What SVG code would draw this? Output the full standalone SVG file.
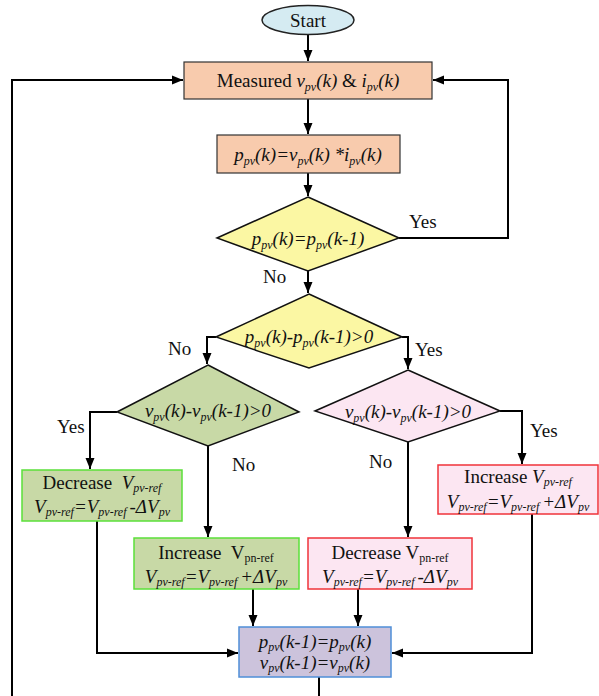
<svg xmlns="http://www.w3.org/2000/svg" width="599" height="696" viewBox="0 0 599 696">
<style>
text{font-family:"Liberation Serif","Times New Roman",serif;font-size:19px;fill:#111}
.c{text-anchor:middle}
.i{font-style:italic}
.s{font-size:12px}
.con{fill:none;stroke:#000;stroke-width:2}
.dia{stroke:#111;stroke-width:1.5}
.peach{fill:#F8CBAD;stroke:#333;stroke-width:1.2}
.green{fill:#C8D9A6;stroke:#5BE03A;stroke-width:1.5}
.pink{fill:#FCE6F2;stroke:#F0333A;stroke-width:1.5}
</style>
<defs>
<marker id="ah" markerUnits="userSpaceOnUse" markerWidth="12" markerHeight="12" viewBox="0 0 12 12" refX="11" refY="6" orient="auto">
<path d="M0,1.5 L11,6 L0,10.5 z" fill="#000"/>
</marker>
</defs>

<g id="connectors">
<path class="con" d="M308,34 V61" marker-end="url(#ah)"/>
<path class="con" d="M308,99 V134" marker-end="url(#ah)"/>
<path class="con" d="M308,173 V196" marker-end="url(#ah)"/>
<path class="con" d="M399,238 H508 V80 H433" marker-end="url(#ah)"/>
<path class="con" d="M308,271 V293" marker-end="url(#ah)"/>
<path class="con" d="M216,337 H207 V364" marker-end="url(#ah)"/>
<path class="con" d="M402,337 H408 V369" marker-end="url(#ah)"/>
<path class="con" d="M117,412 H90 V469" marker-end="url(#ah)"/>
<path class="con" d="M208,446 V537" marker-end="url(#ah)"/>
<path class="con" d="M500,411 H522 V464" marker-end="url(#ah)"/>
<path class="con" d="M408,442 V537" marker-end="url(#ah)"/>
<path class="con" d="M97,521 V653 H238" marker-end="url(#ah)"/>
<path class="con" d="M253,589 V626" marker-end="url(#ah)"/>
<path class="con" d="M358,589 V626" marker-end="url(#ah)"/>
<path class="con" d="M532,514 V653 H392" marker-end="url(#ah)"/>
<path class="con" d="M319,677 V705 H12 V80 H183" marker-end="url(#ah)"/>
<text x="409" y="228">Yes</text>
<text x="263" y="283">No</text>
<text x="168" y="355">No</text>
<text x="415" y="356">Yes</text>
<text x="57" y="433">Yes</text>
<text x="232" y="471">No</text>
<text x="530" y="437">Yes</text>
<text x="369" y="468">No</text>
</g>

<g id="start">
<ellipse cx="308" cy="20" rx="46" ry="14.5" fill="#D5EBF2" stroke="#222" stroke-width="1.5"/>
<text class="c" x="308" y="27">Start</text>
</g>

<g id="measure">
<rect x="184" y="62" width="248" height="37" class="peach"/>
<text class="c" x="308" y="87">Measured <tspan class="i">v<tspan class="s" dy="4">pv</tspan><tspan dy="-4">(k) </tspan></tspan>&amp; <tspan class="i">i<tspan class="s" dy="4">pv</tspan><tspan dy="-4">(k)</tspan></tspan></text>
</g>

<g id="power">
<rect x="217" y="135" width="183" height="38" class="peach"/>
<text class="c i" x="308" y="161">p<tspan class="s" dy="4">pv</tspan><tspan dy="-4">(k)=v</tspan><tspan class="s" dy="4">pv</tspan><tspan dy="-4">(k) *i</tspan><tspan class="s" dy="4">pv</tspan><tspan dy="-4">(k)</tspan></text>
</g>

<g id="dec1">
<polygon points="308,197 399,238 308,271 217,238" fill="#FBF7A3" class="dia"/>
<text class="c i" x="308" y="245">p<tspan class="s" dy="4">pv</tspan><tspan dy="-4">(k)=p</tspan><tspan class="s" dy="4">pv</tspan><tspan dy="-4">(k-1)</tspan></text>
</g>

<g id="dec2">
<polygon points="309,294 402,337 309,368 216,337" fill="#FBF7A3" class="dia"/>
<text class="c i" x="309" y="343">p<tspan class="s" dy="4">pv</tspan><tspan dy="-4">(k)-p</tspan><tspan class="s" dy="4">pv</tspan><tspan dy="-4">(k-1)&gt;0</tspan></text>
</g>

<g id="dec3">
<polygon points="208,365 299,412 208,446 117,412" fill="#C8D9A6" class="dia"/>
<text class="c i" x="208" y="417">v<tspan class="s" dy="4">pv</tspan><tspan dy="-4">(k)-v</tspan><tspan class="s" dy="4">pv</tspan><tspan dy="-4">(k-1)&gt;0</tspan></text>
</g>

<g id="dec4">
<polygon points="408,370 500,411 408,442 315,411" fill="#FCE6F2" class="dia"/>
<text class="c i" x="408" y="418">v<tspan class="s" dy="4">pv</tspan><tspan dy="-4">(k)-v</tspan><tspan class="s" dy="4">pv</tspan><tspan dy="-4">(k-1)&gt;0</tspan></text>
</g>

<g id="decreaseLeft">
<rect x="22" y="470" width="160" height="51" class="green"/>
<text class="c" x="102" y="489">Decrease&#160; <tspan class="i">V<tspan class="s" dy="3">pv-ref</tspan></tspan></text>
<text class="c i" x="102" y="513">V<tspan class="s" dy="3">pv-ref</tspan><tspan dy="-3">=V</tspan><tspan class="s" dy="3">pv-ref </tspan><tspan dy="-3">-ΔV</tspan><tspan class="s" dy="3">pv</tspan></text>
</g>

<g id="increaseRight">
<rect x="438" y="465" width="160" height="49" class="pink"/>
<text class="c" x="518" y="483">Increase <tspan class="i">V<tspan class="s" dy="3">pv-ref</tspan></tspan></text>
<text class="c i" x="518" y="508">V<tspan class="s" dy="3">pv-ref</tspan><tspan dy="-3">=V</tspan><tspan class="s" dy="3">pv-ref </tspan><tspan dy="-3">+ΔV</tspan><tspan class="s" dy="3">pv</tspan></text>
</g>

<g id="increaseMid">
<rect x="134" y="538" width="165" height="51" class="green"/>
<text class="c" x="216" y="559">Increase&#160; V<tspan class="s" dy="3">pn-ref</tspan></text>
<text class="c i" x="216" y="583">V<tspan class="s" dy="3">pv-ref</tspan><tspan dy="-3">=V</tspan><tspan class="s" dy="3">pv-ref </tspan><tspan dy="-3">+ΔV</tspan><tspan class="s" dy="3">pv</tspan></text>
</g>

<g id="decreaseMid">
<rect x="308" y="538" width="164" height="51" class="pink"/>
<text class="c" x="390" y="559">Decrease V<tspan class="s" dy="3">pn-ref</tspan></text>
<text class="c i" x="390" y="583">V<tspan class="s" dy="3">pv-ref</tspan><tspan dy="-3">=V</tspan><tspan class="s" dy="3">pv-ref </tspan><tspan dy="-3">-ΔV</tspan><tspan class="s" dy="3">pv</tspan></text>
</g>

<g id="update">
<rect x="239" y="627" width="152" height="50" fill="#CCC3DC" stroke="#4F8FD8" stroke-width="1.5"/>
<text class="c i" x="315" y="648">p<tspan class="s" dy="3">pv</tspan><tspan dy="-3">(k-1)=p</tspan><tspan class="s" dy="3">pv</tspan><tspan dy="-3">(k)</tspan></text>
<text class="c i" x="315" y="669">v<tspan class="s" dy="3">pv</tspan><tspan dy="-3">(k-1)=v</tspan><tspan class="s" dy="3">pv</tspan><tspan dy="-3">(k)</tspan></text>
</g>
</svg>
